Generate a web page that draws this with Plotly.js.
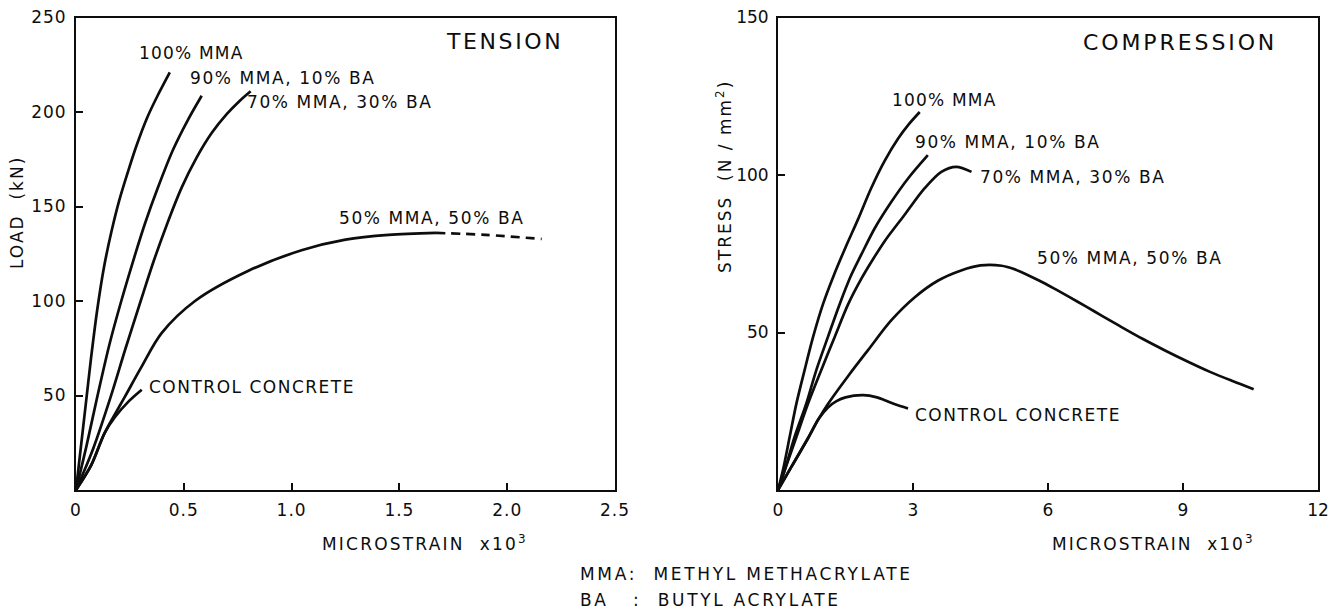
<!DOCTYPE html>
<html>
<head>
<meta charset="utf-8">
<script src="https://cdn.plot.ly/plotly-3.0.1.min.js"></script>
<style>
html,body{margin:0;padding:0;background:#fff;}
#chart{width:1339px;height:612px;}
.xtick text,.ytick text{letter-spacing:1px;}
</style>
</head>
<body>
<div id="chart"></div>
<script>
// ---------- TENSION (load kN vs microstrain x10^3) ----------
const tenMMA100X = [0, 0.02, 0.045, 0.07, 0.098, 0.13, 0.165, 0.2, 0.24, 0.28, 0.33, 0.38, 0.435];
const tenMMA100Y = [0, 20, 45, 70, 95, 118, 137, 153, 168, 182, 197, 209, 221];
const tenMMA90X  = [0, 0.05, 0.1, 0.155, 0.21, 0.27, 0.32, 0.38, 0.45, 0.52, 0.583];
const tenMMA90Y  = [0, 24, 50, 77, 100, 123, 141, 160, 180, 196, 208.6];
const tenMMA70X  = [0, 0.08, 0.16, 0.23, 0.3, 0.36, 0.42, 0.49, 0.56, 0.63, 0.7, 0.76, 0.81];
const tenMMA70Y  = [0, 22, 49, 75, 100, 121, 140, 160, 176, 189, 199, 206, 211];
const tenMMA50X  = [0, 0.07, 0.132, 0.19, 0.225, 0.303, 0.397, 0.552, 0.80, 1.05, 1.25, 1.45, 1.67];
const tenMMA50Y  = [0, 13, 30, 42, 49, 65, 83, 100, 116, 127, 132.5, 135, 136];
const tenMMA50DashX = [1.67, 1.9, 2.16];
const tenMMA50DashY = [136, 135, 132.8];
const tenCtrlX   = [0, 0.07, 0.132, 0.18, 0.241, 0.305];
const tenCtrlY   = [0, 13, 30, 38.5, 46.5, 53];

// ---------- COMPRESSION (stress N/mm2 vs microstrain x10^3) ----------
const comMMA100X = [0, 0.11, 0.26, 0.41, 0.59, 0.78, 1.0, 1.25, 1.5, 1.78, 2.07, 2.37, 2.67, 2.9, 3.15];
const comMMA100Y = [0, 6.3, 16.9, 27.5, 38, 48.6, 59, 68.5, 77, 86, 95.8, 104.5, 111.6, 116, 120];
const comMMA90X  = [0, 0.15, 0.37, 0.63, 0.85, 1.11, 1.37, 1.62, 1.85, 2.15, 2.52, 2.89, 3.33];
const comMMA90Y  = [0, 6.3, 16.9, 27.5, 38, 48.6, 59, 68, 74.7, 83.1, 91.5, 98.9, 106.3];
const comMMA70X  = [0, 0.15, 0.41, 0.67, 0.96, 1.26, 1.56, 1.85, 2.1, 2.37, 2.81, 3.26, 3.63, 3.96, 4.3];
const comMMA70Y  = [0, 6.3, 16.9, 27.5, 38, 48.6, 59, 67, 73, 79, 87.3, 95.8, 101, 102.6, 101];
const comMMA50X  = [0, 0.3, 0.67, 0.9, 1.11, 1.56, 2.0, 2.52, 3.04, 3.56, 4.07, 4.5, 4.97, 5.21, 5.5, 5.8, 6.13, 6.47, 6.84, 7.2, 7.6, 8.1, 8.6, 9.1, 9.6, 10.1, 10.57];
const comMMA50Y  = [0, 7.4, 16.5, 22.5, 27.3, 36.2, 44.4, 53.9, 61.2, 66.5, 69.7, 71.3, 71.2, 70.3, 68.6, 66.5, 64, 61.3, 58.3, 55.3, 52, 48, 44.3, 40.8, 37.5, 34.6, 32];
const comCtrlX   = [0, 0.3, 0.67, 0.9, 1.11, 1.3, 1.5, 1.89, 2.2, 2.37, 2.6, 2.89];
const comCtrlY   = [0, 7.4, 16.5, 22.5, 26.2, 28.2, 29.4, 30.1, 29.4, 28.5, 27.2, 25.9];

// ---------- tick labels ----------
const tenXTicks = [0, 0.5, 1, 1.5, 2, 2.5];
const tenXLabels = ['0', '0.5', '1.0', '1.5', '2.0', '2.5'];
const tenYTicks = [50, 100, 150, 200, 250];
const comXTicks = [0, 3, 6, 9, 12];
const comYTicks = [50, 100, 150];

const INK = '#0d0d0d';
const FONT = 'DejaVu Sans, Noto Sans, sans-serif';

function curve(x, y, xa, ya, dash) {
  return {x: x, y: y, xaxis: xa, yaxis: ya, type: 'scatter', mode: 'lines',
    line: {color: INK, width: 2.7, shape: 'spline', smoothing: 0.9, dash: dash || 'solid'},
    hoverinfo: 'skip', cliponaxis: false};
}

const data = [
  curve(tenMMA100X, tenMMA100Y, 'x', 'y'),
  curve(tenMMA90X, tenMMA90Y, 'x', 'y'),
  curve(tenMMA70X, tenMMA70Y, 'x', 'y'),
  curve(tenMMA50X, tenMMA50Y, 'x', 'y'),
  curve(tenMMA50DashX, tenMMA50DashY, 'x', 'y', '9px,6px'),
  curve(tenCtrlX, tenCtrlY, 'x', 'y'),
  curve(comMMA100X, comMMA100Y, 'x2', 'y2'),
  curve(comMMA90X, comMMA90Y, 'x2', 'y2'),
  curve(comMMA70X, comMMA70Y, 'x2', 'y2'),
  curve(comMMA50X, comMMA50Y, 'x2', 'y2'),
  curve(comCtrlX, comCtrlY, 'x2', 'y2')
];

const W = 1339, H = 612;
const yDom = [(H - 490) / H, (H - 17.5) / H];

function axisBase() {
  return {showgrid: false, zeroline: false, showline: true, mirror: true,
    linecolor: INK, linewidth: 2, ticks: 'inside', ticklen: 7, tickwidth: 2,
    tickcolor: INK, fixedrange: true,
    tickfont: {family: FONT, size: 17, color: INK}};
}

const xaxis = Object.assign(axisBase(), {domain: [76 / W, 615 / W], range: [0, 2.5], anchor: 'y',
  tickmode: 'array', tickvals: tenXTicks, ticktext: tenXLabels, ticklabelstandoff: 4});
const yaxis = Object.assign(axisBase(), {domain: yDom, range: [0, 250], anchor: 'x',
  tickmode: 'array', tickvals: tenYTicks, ticklabelstandoff: 4});
const xaxis2 = Object.assign(axisBase(), {domain: [778 / W, 1318 / W], range: [0, 12], anchor: 'y2',
  tickmode: 'array', tickvals: comXTicks, ticklabelstandoff: 4});
const yaxis2 = Object.assign(axisBase(), {domain: yDom, range: [0, 150], anchor: 'x2',
  tickmode: 'array', tickvals: comYTicks, ticklabelstandoff: 4});

// label helper: pixel positions converted into data coordinates of each panel
const tX = px => (px - 76) / 215.6, tY = py => (490 - py) / 1.888;
const cX = px => (px - 778) / 45, cY = py => (490 - py) / 3.1533;

const spacing = [];
const annotations = [];
function ann(o, sp) { annotations.push(Object.assign({showarrow: false, yanchor: 'middle', font: {family: FONT, size: 17, color: INK}}, o)); spacing.push(sp); }

// tension labels
ann({xref: 'x', yref: 'y', x: tX(137), y: tY(53), xanchor: 'left', align: 'left', text: '100% MMA'}, 1.2);
ann({xref: 'x', yref: 'y', x: tX(188), y: tY(78), xanchor: 'left', align: 'left', text: '90% MMA, 10% BA'}, 1.6);
ann({xref: 'x', yref: 'y', x: tX(245), y: tY(102), xanchor: 'left', align: 'left', text: '70% MMA, 30% BA'}, 1.6);
ann({xref: 'x', yref: 'y', x: tX(337), y: tY(218), xanchor: 'left', align: 'left', text: '50% MMA, 50% BA'}, 1.6);
ann({xref: 'x', yref: 'y', x: tX(147), y: tY(387), xanchor: 'left', align: 'left', text: 'CONTROL CONCRETE'}, 1.5);
ann({xref: 'x', yref: 'y', x: tX(444), y: tY(42), xanchor: 'left', align: 'left', text: 'TENSION', font: {family: FONT, size: 22, color: INK}}, 2.6);
// compression labels
ann({xref: 'x2', yref: 'y2', x: cX(890), y: cY(100), xanchor: 'left', align: 'left', text: '100% MMA'}, 1.2);
ann({xref: 'x2', yref: 'y2', x: cX(913), y: cY(142), xanchor: 'left', align: 'left', text: '90% MMA, 10% BA'}, 1.6);
ann({xref: 'x2', yref: 'y2', x: cX(978), y: cY(177), xanchor: 'left', align: 'left', text: '70% MMA, 30% BA'}, 1.6);
ann({xref: 'x2', yref: 'y2', x: cX(1035), y: cY(258), xanchor: 'left', align: 'left', text: '50% MMA, 50% BA'}, 1.6);
ann({xref: 'x2', yref: 'y2', x: cX(913), y: cY(415), xanchor: 'left', align: 'left', text: 'CONTROL CONCRETE'}, 1.5);
ann({xref: 'x2', yref: 'y2', x: cX(1081), y: cY(42), xanchor: 'left', align: 'left', text: 'COMPRESSION', font: {family: FONT, size: 22, color: INK}}, 2.9);
// axis titles
ann({xref: 'paper', yref: 'paper', x: 320 / W, y: (H - 543) / H, xanchor: 'left', align: 'left', text: 'MICROSTRAIN  x10<sup>3</sup>'}, 2.2);
ann({xref: 'paper', yref: 'paper', x: 1050 / W, y: (H - 543) / H, xanchor: 'left', align: 'left', text: 'MICROSTRAIN  x10<sup>3</sup>'}, 2.0);
ann({xref: 'paper', yref: 'paper', x: 17 / W, y: (H - 213) / H, xanchor: 'center', textangle: -90, text: 'LOAD  (kN)'}, 2.0);
ann({xref: 'paper', yref: 'paper', x: 724 / W, y: (H - 177) / H, xanchor: 'center', textangle: -90, text: 'STRESS  (N / mm<sup>2</sup>)'}, 2.0);
// footnote
ann({xref: 'paper', yref: 'paper', x: 578 / W, y: (H - 574) / H, xanchor: 'left', align: 'left', text: 'MMA:  METHYL METHACRYLATE'}, 2.7);
ann({xref: 'paper', yref: 'paper', x: 578 / W, y: (H - 600) / H, xanchor: 'left', align: 'left', text: 'BA\u00a0\u00a0\u00a0:  BUTYL ACRYLATE'}, 2.7);

const layout = {
  width: W, height: H, margin: {l: 0, r: 0, t: 0, b: 0},
  paper_bgcolor: '#fff', plot_bgcolor: '#fff', showlegend: false,
  font: {family: FONT, size: 17, color: INK},
  xaxis: xaxis, yaxis: yaxis, xaxis2: xaxis2, yaxis2: yaxis2,
  annotations: annotations
};

Plotly.newPlot('chart', data, layout, {staticPlot: true, displayModeBar: false}).then(function () {
  document.querySelectorAll('.annotation').forEach(function (g) {
    const i = +g.getAttribute('data-index');
    const t = g.querySelector('text');
    if (t && spacing[i] !== undefined) t.style.letterSpacing = spacing[i] + 'px';
  });
});
</script>
</body>
</html>
